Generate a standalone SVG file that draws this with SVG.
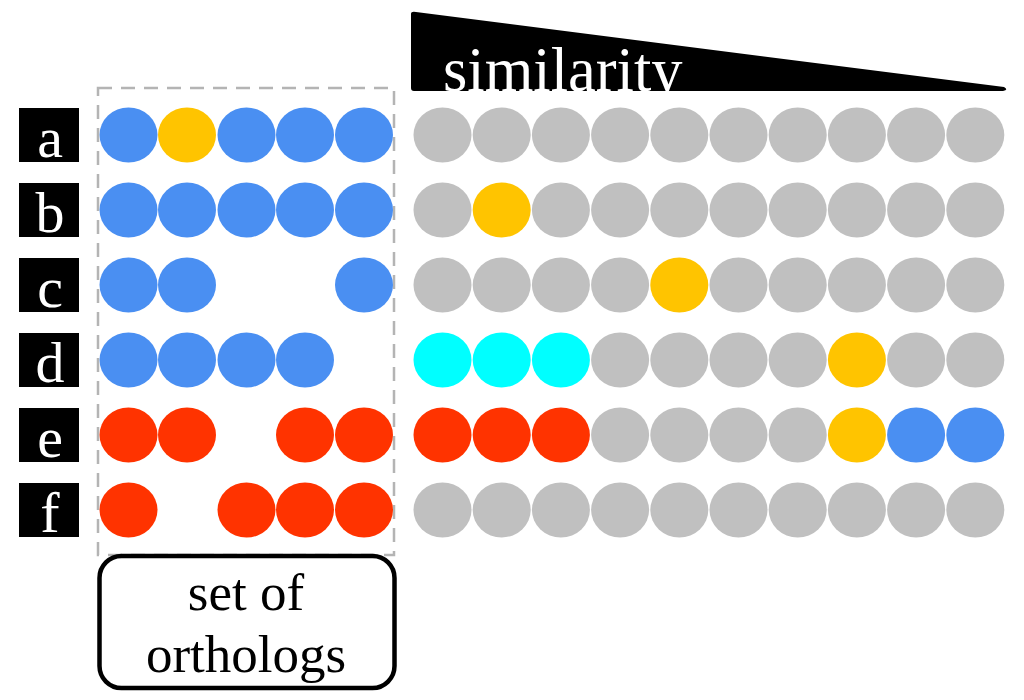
<svg xmlns="http://www.w3.org/2000/svg" width="1024" height="700" viewBox="0 0 1024 700">
<defs>
<style>
.b{fill:#4a8ff2}
.y{fill:#ffc400}
.g{fill:#c0c0c0}
.r{fill:#ff3300}
.c{fill:#00ffff}
.lbl{fill:#000}
.lt{font-family:"Liberation Serif","Times New Roman",serif;font-size:58px;fill:#fff;text-anchor:middle}
.cap{font-family:"Liberation Serif","Times New Roman",serif;font-size:53px;fill:#000;text-anchor:middle}
</style>
<ellipse id="dot" cx="0" cy="0" rx="29" ry="27.5"/>
<clipPath id="triClip"><path d="M411,14 L411,88 Q411,91 414,91 L1003,91 Q1009,90 1004,87 L416,12 Q411,11 411,14 Z"/></clipPath>
</defs>
<rect width="1024" height="700" fill="#fff"/>

<g id="similarity">
<path d="M411,14 L411,88 Q411,91 414,91 L1003,91 Q1009,90 1004,87 L416,12 Q411,11 411,14 Z" fill="#000"/>
<text x="443" y="91" clip-path="url(#triClip)" style="font-family:'Liberation Serif','Times New Roman',serif;font-size:62.5px;fill:#fff">similarity</text>
</g>

<g id="ortholog-set">
<rect x="98" y="88" width="296" height="467" fill="none" stroke="#b4b4b4" stroke-width="2.5" stroke-dasharray="14 9"/>
</g>

<g id="ortholog-box">
<rect x="99.5" y="556" width="295" height="132" rx="22" fill="#fff" stroke="#000" stroke-width="4.5"/>
<text class="cap" x="246" y="610">set of</text>
<text class="cap" x="246" y="672">orthologs</text>
</g>

<g id="row-a" transform="translate(0,135)">
<rect class="lbl" x="19" y="-27" width="60" height="54"/>
<text class="lt" x="50" y="21.5">a</text>
<use href="#dot" class="b" x="128.5"/><use href="#dot" class="y" x="187"/><use href="#dot" class="b" x="246.5"/><use href="#dot" class="b" x="305"/><use href="#dot" class="b" x="364"/>
<use href="#dot" class="g" x="442.5"/><use href="#dot" class="g" x="501.7"/><use href="#dot" class="g" x="560.9"/><use href="#dot" class="g" x="620.1"/><use href="#dot" class="g" x="679.3"/><use href="#dot" class="g" x="738.5"/><use href="#dot" class="g" x="797.7"/><use href="#dot" class="g" x="856.9"/><use href="#dot" class="g" x="916.1"/><use href="#dot" class="g" x="975.3"/>
</g>

<g id="row-b" transform="translate(0,210)">
<rect class="lbl" x="19" y="-27" width="60" height="54"/>
<text class="lt" x="50" y="21.5">b</text>
<use href="#dot" class="b" x="128.5"/><use href="#dot" class="b" x="187"/><use href="#dot" class="b" x="246.5"/><use href="#dot" class="b" x="305"/><use href="#dot" class="b" x="364"/>
<use href="#dot" class="g" x="442.5"/><use href="#dot" class="y" x="501.7"/><use href="#dot" class="g" x="560.9"/><use href="#dot" class="g" x="620.1"/><use href="#dot" class="g" x="679.3"/><use href="#dot" class="g" x="738.5"/><use href="#dot" class="g" x="797.7"/><use href="#dot" class="g" x="856.9"/><use href="#dot" class="g" x="916.1"/><use href="#dot" class="g" x="975.3"/>
</g>

<g id="row-c" transform="translate(0,285)">
<rect class="lbl" x="19" y="-27" width="60" height="54"/>
<text class="lt" x="50" y="21.5">c</text>
<use href="#dot" class="b" x="128.5"/><use href="#dot" class="b" x="187"/><use href="#dot" class="b" x="364"/>
<use href="#dot" class="g" x="442.5"/><use href="#dot" class="g" x="501.7"/><use href="#dot" class="g" x="560.9"/><use href="#dot" class="g" x="620.1"/><use href="#dot" class="y" x="679.3"/><use href="#dot" class="g" x="738.5"/><use href="#dot" class="g" x="797.7"/><use href="#dot" class="g" x="856.9"/><use href="#dot" class="g" x="916.1"/><use href="#dot" class="g" x="975.3"/>
</g>

<g id="row-d" transform="translate(0,360)">
<rect class="lbl" x="19" y="-27" width="60" height="54"/>
<text class="lt" x="50" y="21.5">d</text>
<use href="#dot" class="b" x="128.5"/><use href="#dot" class="b" x="187"/><use href="#dot" class="b" x="246.5"/><use href="#dot" class="b" x="305"/>
<use href="#dot" class="c" x="442.5"/><use href="#dot" class="c" x="501.7"/><use href="#dot" class="c" x="560.9"/><use href="#dot" class="g" x="620.1"/><use href="#dot" class="g" x="679.3"/><use href="#dot" class="g" x="738.5"/><use href="#dot" class="g" x="797.7"/><use href="#dot" class="y" x="856.9"/><use href="#dot" class="g" x="916.1"/><use href="#dot" class="g" x="975.3"/>
</g>

<g id="row-e" transform="translate(0,435)">
<rect class="lbl" x="19" y="-27" width="60" height="54"/>
<text class="lt" x="50" y="21.5">e</text>
<use href="#dot" class="r" x="128.5"/><use href="#dot" class="r" x="187"/><use href="#dot" class="r" x="305"/><use href="#dot" class="r" x="364"/>
<use href="#dot" class="r" x="442.5"/><use href="#dot" class="r" x="501.7"/><use href="#dot" class="r" x="560.9"/><use href="#dot" class="g" x="620.1"/><use href="#dot" class="g" x="679.3"/><use href="#dot" class="g" x="738.5"/><use href="#dot" class="g" x="797.7"/><use href="#dot" class="y" x="856.9"/><use href="#dot" class="b" x="916.1"/><use href="#dot" class="b" x="975.3"/>
</g>

<g id="row-f" transform="translate(0,510)">
<rect class="lbl" x="19" y="-27" width="60" height="54"/>
<text class="lt" x="50" y="21.5">f</text>
<use href="#dot" class="r" x="128.5"/><use href="#dot" class="r" x="246.5"/><use href="#dot" class="r" x="305"/><use href="#dot" class="r" x="364"/>
<use href="#dot" class="g" x="442.5"/><use href="#dot" class="g" x="501.7"/><use href="#dot" class="g" x="560.9"/><use href="#dot" class="g" x="620.1"/><use href="#dot" class="g" x="679.3"/><use href="#dot" class="g" x="738.5"/><use href="#dot" class="g" x="797.7"/><use href="#dot" class="g" x="856.9"/><use href="#dot" class="g" x="916.1"/><use href="#dot" class="g" x="975.3"/>
</g>

<g id="connectors"></g>
</svg>
